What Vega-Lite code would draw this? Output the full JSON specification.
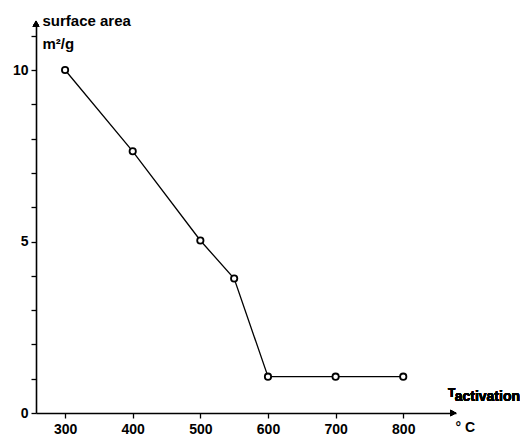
{
  "$schema": "https://vega.github.io/schema/vega-lite/v6.json",
  "width": 420,
  "height": 391,
  "autosize": {"type": "none"},
  "padding": {"left": 36, "top": 22, "right": 68, "bottom": 23},
  "background": "white",
  "config": {"view": {"stroke": null}, "font": "Liberation Sans"},
  "data": {"values": [
    {"t": 300, "area": 10.0},
    {"t": 400, "area": 7.63},
    {"t": 500, "area": 5.03},
    {"t": 550, "area": 3.92},
    {"t": 600, "area": 1.06},
    {"t": 700, "area": 1.06},
    {"t": 800, "area": 1.06}
  ]},
  "layer": [
    {
      "mark": {"type": "line", "color": "black", "strokeWidth": 1.3},
      "encoding": {
        "x": {"field": "t", "type": "quantitative",
          "scale": {"domain": [257, 878], "nice": false, "zero": false},
          "axis": {"values": [300, 400, 500, 600, 700, 800], "tickCount": 20, "format": "d", "grid": false, "title": "° C", "labelOverlap": false,
            "titleFont": "Liberation Sans", "titleFontWeight": "bold", "titleFontSize": 14, "titleColor": "black",
            "titleAnchor": "start", "titleAlign": "left", "titleBaseline": "alphabetic", "titleX": 419, "titleY": 18,
            "domainColor": "black", "domainWidth": 1.6, "tickColor": "black", "tickSize": 5, "tickWidth": 1.3,
            "labelFont": "Liberation Sans", "labelFontWeight": "bold", "labelFontSize": 14, "labelColor": "black",
            "labelPadding": 4}},
        "y": {"field": "area", "type": "quantitative",
          "scale": {"domain": [0, 11.4], "nice": false, "zero": true},
          "axis": {"values": [0, 1, 2, 3, 4, 5, 6, 7, 8, 9, 10, 11], "tickCount": 20, "format": "d", "grid": false, "labelOverlap": false,
            "labelExpr": "datum.value % 5 == 0 ? datum.label : ''",
            "title": ["surface area", "\u00a0m²/g"], "titleAngle": 0, "titleAlign": "left", "titleBaseline": "alphabetic",
            "titleX": 6, "titleY": 3, "titleLineHeight": 23,
            "titleFont": "Liberation Sans", "titleFontWeight": "bold", "titleFontSize": 15, "titleColor": "black",
            "domainColor": "black", "domainWidth": 1.6, "tickColor": "black", "tickSize": 5, "tickWidth": 1.3,
            "labelFont": "Liberation Sans", "labelFontWeight": "bold", "labelFontSize": 14, "labelColor": "black",
            "labelPadding": 3}}
      }
    },
    {
      "mark": {"type": "point", "shape": "circle", "filled": false, "fill": "white", "fillOpacity": 1, "stroke": "black", "strokeWidth": 1.8, "size": 40, "opacity": 1},
      "encoding": {
        "x": {"field": "t", "type": "quantitative"},
        "y": {"field": "area", "type": "quantitative"}
      }
    },
    {
      "mark": {"type": "point", "shape": "triangle-up", "filled": true, "color": "black", "size": 45, "opacity": 1},
      "encoding": {"x": {"datum": 257}, "y": {"datum": 11.35}}
    },
    {
      "mark": {"type": "point", "shape": "triangle-right", "filled": true, "color": "black", "size": 45, "opacity": 1},
      "encoding": {"x": {"datum": 874}, "y": {"datum": 0}}
    },
    {
      "mark": {"type": "text", "text": "T", "align": "left", "baseline": "alphabetic", "font": "Liberation Sans", "fontWeight": "bold", "fontSize": 12, "color": "black"},
      "encoding": {"x": {"datum": 866}, "y": {"datum": 0.47}}
    },
    {
      "mark": {"type": "text", "text": "activation", "align": "left", "baseline": "alphabetic", "font": "Liberation Sans", "fontWeight": "bold", "fontSize": 14, "color": "black"},
      "encoding": {"x": {"datum": 876}, "y": {"datum": 0.35}}
    }
  ]
}
